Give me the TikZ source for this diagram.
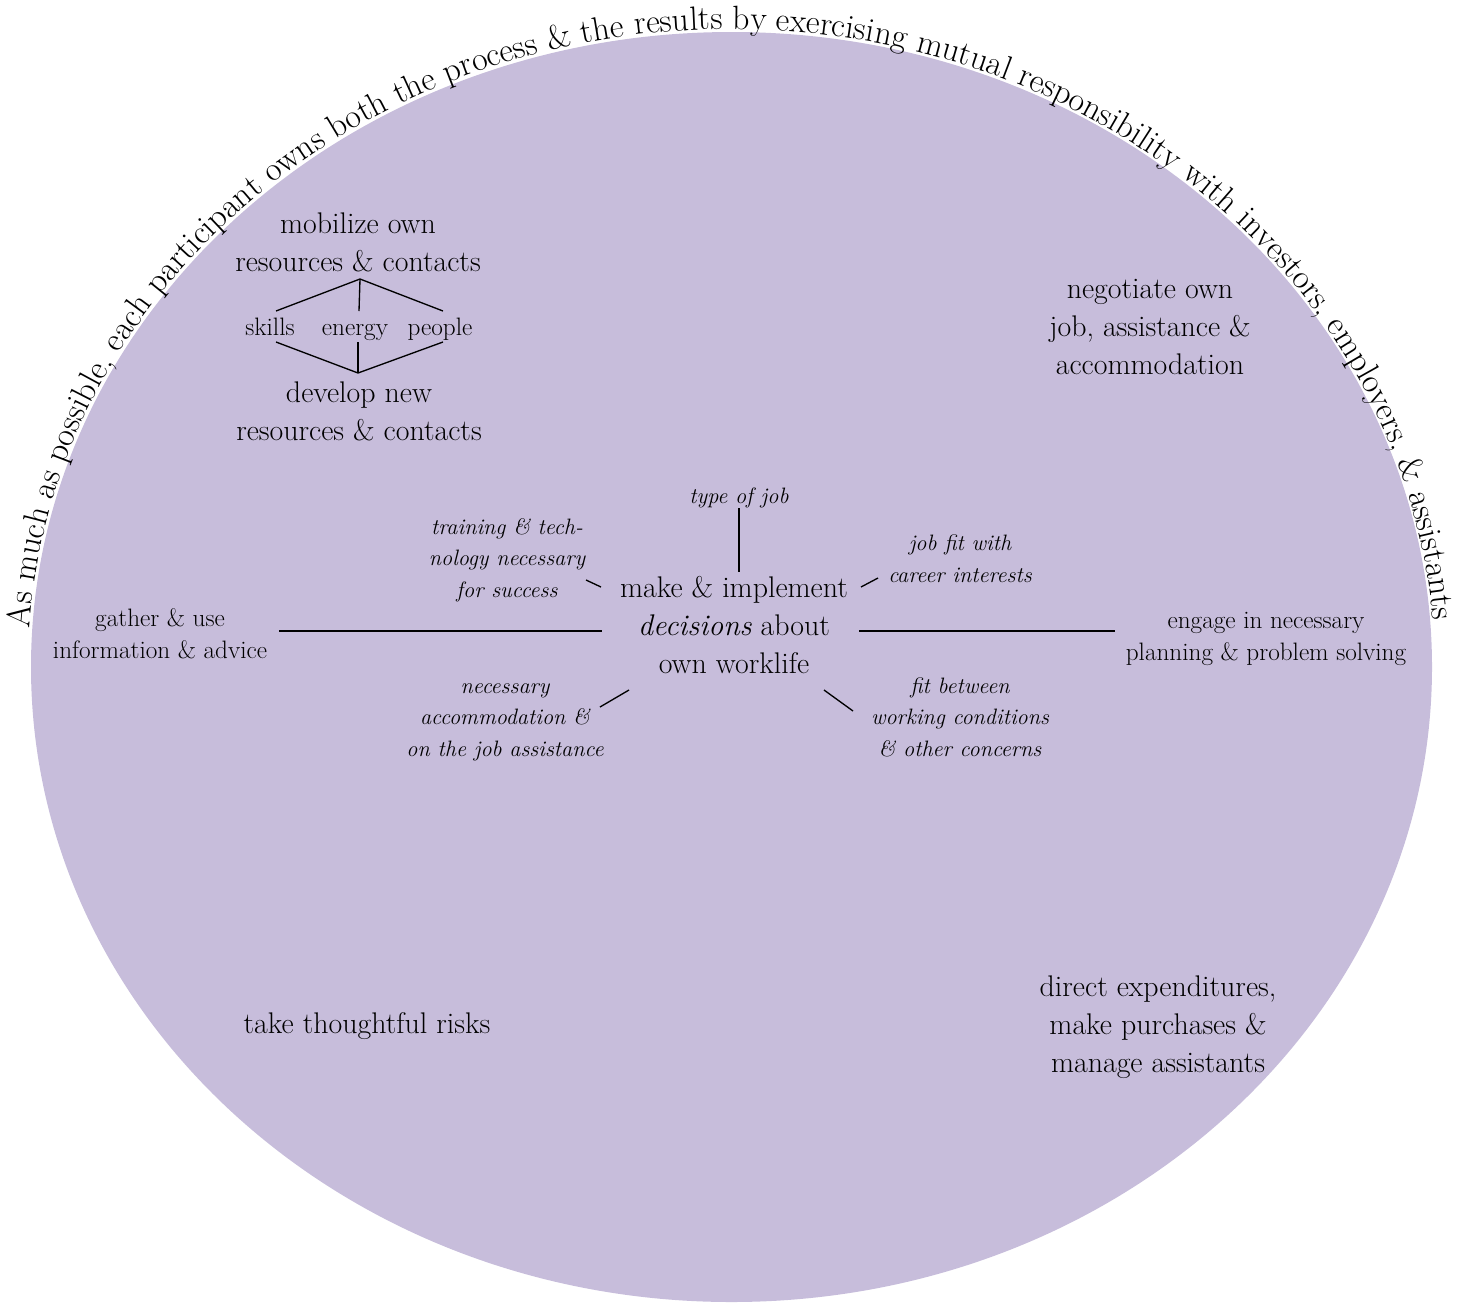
\documentclass[tikz,border=0pt]{standalone}
\usetikzlibrary{decorations.text}
\definecolor{lav}{RGB}{199,189,219}
\begin{document}
\begin{tikzpicture}[x=0.75pt,y=0.75pt,
  tL/.style={font=\fontsize{22.4}{28.5}\selectfont, align=center, inner sep=0pt, anchor=base},
  tM/.style={font=\fontsize{18.9}{23.3}\selectfont, align=center, inner sep=0pt, anchor=base},
  tI/.style={font=\fontsize{16.7}{23.3}\selectfont\itshape, align=center, inner sep=0pt, anchor=base},
  ln/.style={line width=1pt}]
\useasboundingbox (0,0) rectangle (1466,-1304);
\fill[lav] (731.5,-667) ellipse[x radius=700.5, y radius=635];
\path[decorate, decoration={text along path,
  text={|\fontsize{25.3}{30}\selectfont|As much as possible, each participant owns both the process {\&} the results by exercising mutual responsibility with investors, employers, {\&} assistants}}]
  (29.8,-628.1) arc[start angle=176.5,end angle=-2,x radius=703,y radius=638];

% top-left cluster (anchor = baseline of last line)
\node[tL] (mob) at (358,-271) {mobilize own\\resources \& contacts};
\node[tM] (skills) at (270,-335) {skills};
\node[tM] (energy) at (355,-335) {energy};
\node[tM] (people) at (440,-335) {people};
\node[tL] (dev) at (359,-440) {develop new\\resources \& contacts};
\coordinate (ta) at (360,-279);
\coordinate (tl) at (276,-311);
\coordinate (tr) at (443,-311);
\coordinate (tv) at (359,-311);
\coordinate (ba) at (358,-373);
\coordinate (bl) at (276,-342);
\coordinate (br) at (443,-342);
\coordinate (bv) at (358,-342);
\draw[ln] (tl) -- (ta) -- (tr);
\draw[ln] (ta) -- (tv);
\draw[ln] (bl) -- (ba) -- (br);
\draw[ln] (bv) -- (ba);

\node[tL] (neg) at (1150,-374) {negotiate own\\job, assistance \&\\accommodation};

% center
\node[tL] (ctr) at (734,-673) {make \& implement\\{\itshape decisions} about\\own worklife};
\node[tI] (type) at (739,-503) {type of job};
\node[tI] (train) at (507,-597) {training \& tech-\\nology necessary\\for success};
\node[tI] (fit) at (960,-582) {job fit with\\career interests};
\node[tI] (acc) at (505,-756) {necessary\\accommodation \&\\on the job assistance};
\node[tI] (betw) at (960,-756) {fit between\\working conditions\\\& other concerns};
\node[tM] (gath) at (160,-658) {gather \& use\\information \& advice};
\node[tM] (eng) at (1266,-660) {engage in necessary\\planning \& problem solving};

\coordinate (c1) at (739,-508); \coordinate (c2) at (739,-572);
\coordinate (c3) at (586,-580); \coordinate (c4) at (601,-587);
\coordinate (c5) at (861,-587); \coordinate (c6) at (878,-578);
\coordinate (c7) at (279,-631); \coordinate (c8) at (602,-631);
\coordinate (c9) at (859,-631); \coordinate (c10) at (1115,-631);
\coordinate (c11) at (600,-707); \coordinate (c12) at (629,-690);
\coordinate (c13) at (824,-690); \coordinate (c14) at (853,-711);
\draw[ln] (c1) -- (c2);
\draw[ln] (c3) -- (c4);
\draw[ln] (c5) -- (c6);
\draw[ln] (c7) -- (c8);
\draw[ln] (c9) -- (c10);
\draw[ln] (c11) -- (c12);
\draw[ln] (c13) -- (c14);

\node[tL] (risk) at (367,-1033) {take thoughtful risks};
\node[tL] (dir) at (1158,-1072) {direct expenditures,\\make purchases \&\\manage assistants};
\end{tikzpicture}
\end{document}
